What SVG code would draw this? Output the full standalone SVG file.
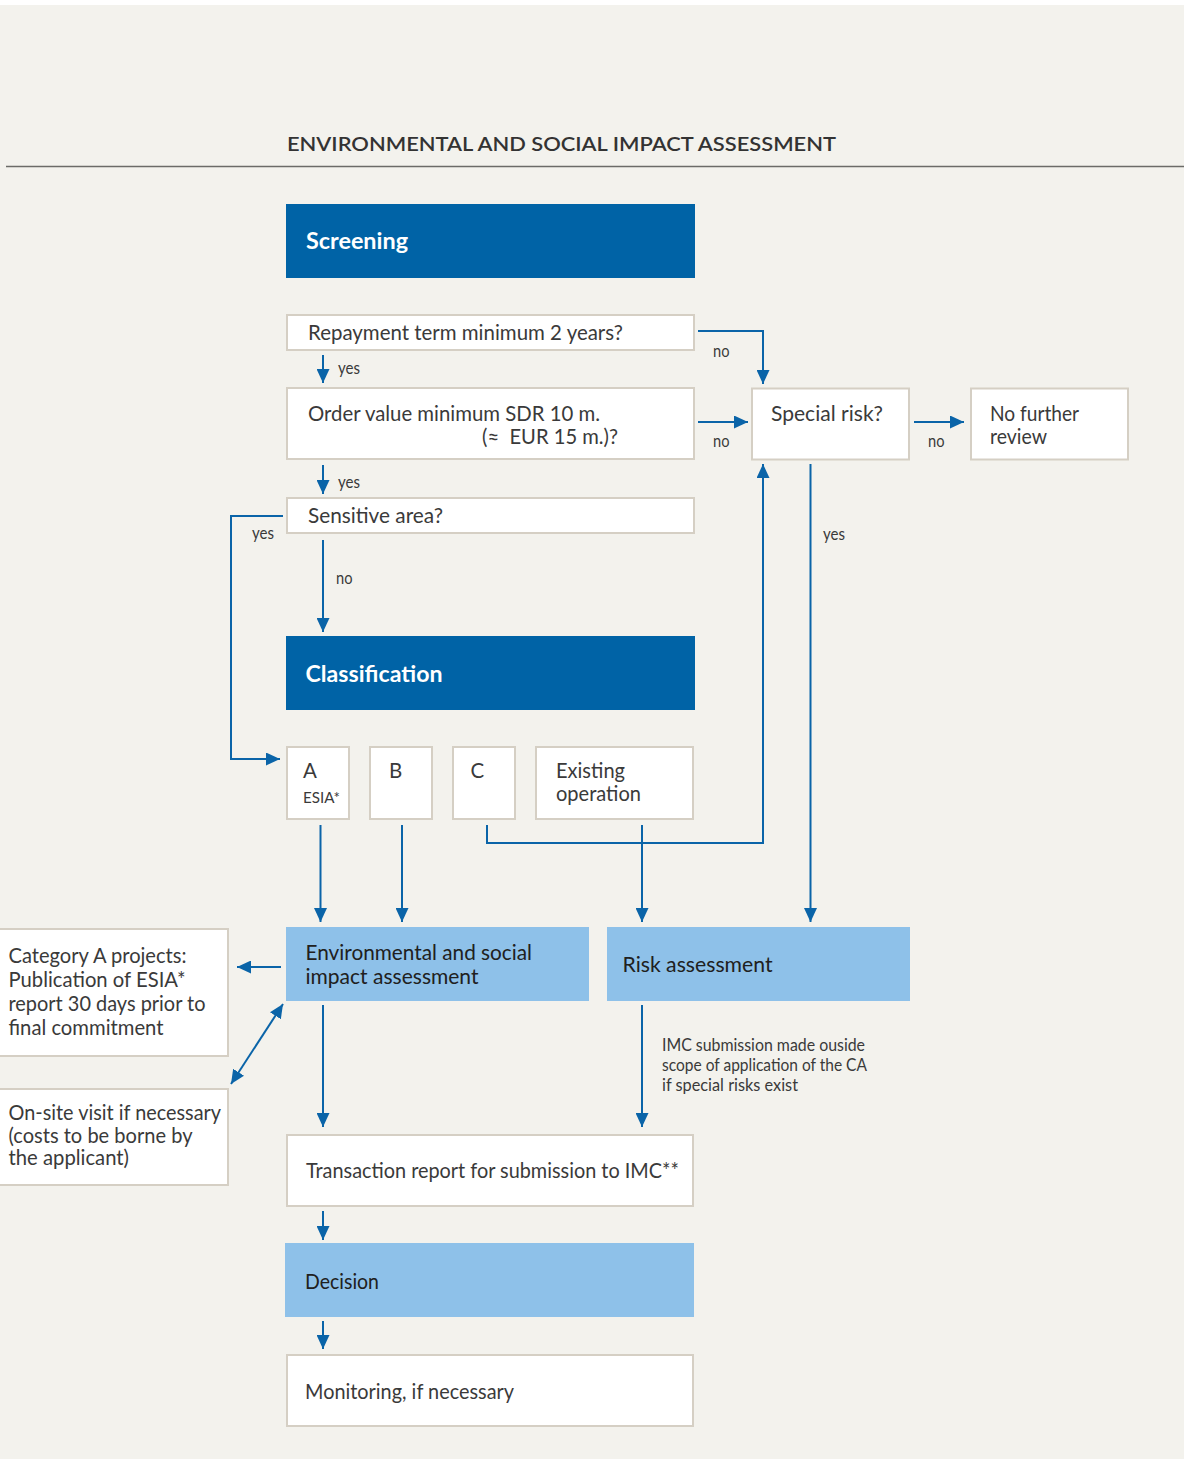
<svg xmlns="http://www.w3.org/2000/svg" width="1184" height="1459" viewBox="0 0 1184 1459">
<defs>
<style>
text{font-family:Lato,"Noto Sans","Liberation Sans",sans-serif;fill:#3a3a3a}
.t{font-size:20.5px}
.s{font-size:17px}
.h{font-size:23px;font-weight:700;fill:#ffffff}
.dk{fill:#202020}
.box{fill:#ffffff;stroke:#d5cfc4;stroke-width:2}
.dark{fill:#0063a6}
.light{fill:#8ec1e9}
.c{fill:none;stroke:#0a64a8;stroke-width:2}
</style>
<marker id="arr" viewBox="0 0 14 13" refX="14" refY="6.5" markerWidth="14" markerHeight="13" markerUnits="userSpaceOnUse" orient="auto-start-reverse">
<path d="M0,0 L14,6.5 L0,13 z" fill="#0a64a8"/>
</marker>
</defs>
<rect x="0" y="0" width="1184" height="1459" fill="#ffffff"/>
<rect x="0" y="5" width="1184" height="1454" fill="#f3f2ed"/>
<text x="287" y="151" style="font-size:19px;font-weight:600;fill:#333" textLength="549" lengthAdjust="spacingAndGlyphs">ENVIRONMENTAL AND SOCIAL IMPACT ASSESSMENT</text>
<line x1="6" y1="166.5" x2="1184" y2="166.5" stroke="#6b6b68" stroke-width="1.6"/>

<g id="connectors">
<path class="c" d="M698,331 H763 V384" marker-end="url(#arr)"/>
<path class="c" d="M323,355 V383" marker-end="url(#arr)"/>
<path class="c" d="M698,422 H748" marker-end="url(#arr)"/>
<path class="c" d="M323,465 V494" marker-end="url(#arr)"/>
<path class="c" d="M283,516 H231 V759 H280" marker-end="url(#arr)"/>
<path class="c" d="M323,540 V632" marker-end="url(#arr)"/>
<path class="c" d="M914,422 H964" marker-end="url(#arr)"/>
<path class="c" d="M810.5,464 V922" marker-end="url(#arr)"/>
<path class="c" d="M487,825 V843 H763 V464" marker-end="url(#arr)"/>
<path class="c" d="M320.5,825 V922" marker-end="url(#arr)"/>
<path class="c" d="M402,825 V922" marker-end="url(#arr)"/>
<path class="c" d="M642,825 V922" marker-end="url(#arr)"/>
<path class="c" d="M281,967 H237" marker-end="url(#arr)"/>
<path class="c" d="M283,1004 L231,1084" marker-start="url(#arr)" marker-end="url(#arr)"/>
<path class="c" d="M323,1005 V1127" marker-end="url(#arr)"/>
<path class="c" d="M642,1005 V1127" marker-end="url(#arr)"/>
<path class="c" d="M323,1211 V1240" marker-end="url(#arr)"/>
<path class="c" d="M323,1321 V1349" marker-end="url(#arr)"/>
<text class="s" x="338" y="374" textLength="22" lengthAdjust="spacingAndGlyphs">yes</text>
<text class="s" x="338" y="488" textLength="22" lengthAdjust="spacingAndGlyphs">yes</text>
<text class="s" x="252" y="539" textLength="22" lengthAdjust="spacingAndGlyphs">yes</text>
<text class="s" x="336" y="584" textLength="16.5" lengthAdjust="spacingAndGlyphs">no</text>
<text class="s" x="713" y="357" textLength="16.5" lengthAdjust="spacingAndGlyphs">no</text>
<text class="s" x="713" y="447" textLength="16.5" lengthAdjust="spacingAndGlyphs">no</text>
<text class="s" x="928" y="447" textLength="16.5" lengthAdjust="spacingAndGlyphs">no</text>
<text class="s" x="823" y="540" textLength="22" lengthAdjust="spacingAndGlyphs">yes</text>
<text class="s" x="662" y="1051" textLength="203" lengthAdjust="spacingAndGlyphs">IMC submission made ouside</text>
<text class="s" x="662" y="1071" textLength="205" lengthAdjust="spacingAndGlyphs">scope of application of the CA</text>
<text class="s" x="662" y="1091" textLength="136" lengthAdjust="spacingAndGlyphs">if special risks exist</text>
</g>

<g id="screening">
<rect class="dark" x="286" y="204" width="409" height="74"/>
<text class="h" x="306" y="249" textLength="102" lengthAdjust="spacingAndGlyphs">Screening</text>
</g>
<g id="repayment">
<rect class="box" x="287" y="315" width="407" height="35"/>
<text class="t" x="308" y="340" textLength="315" lengthAdjust="spacingAndGlyphs">Repayment term minimum 2 years?</text>
</g>
<g id="order-value">
<rect class="box" x="287" y="388" width="407" height="71"/>
<text class="t" x="308" y="421" textLength="292" lengthAdjust="spacingAndGlyphs">Order value minimum SDR 10 m.</text>
<text class="t" x="482" y="444" textLength="136" lengthAdjust="spacingAndGlyphs" style="white-space:pre">(≈  EUR 15 m.)?</text>
</g>
<g id="sensitive-area">
<rect class="box" x="287" y="498" width="407" height="35"/>
<text class="t" x="308" y="523" textLength="135" lengthAdjust="spacingAndGlyphs">Sensitive area?</text>
</g>
<g id="special-risk">
<rect class="box" x="752" y="388.5" width="157" height="71"/>
<text class="t" x="771" y="421" textLength="112" lengthAdjust="spacingAndGlyphs">Special risk?</text>
</g>
<g id="no-further-review">
<rect class="box" x="971" y="388.5" width="157" height="71"/>
<text class="t" x="990" y="421" textLength="89" lengthAdjust="spacingAndGlyphs">No further</text>
<text class="t" x="990" y="444" textLength="57" lengthAdjust="spacingAndGlyphs">review</text>
</g>
<g id="classification">
<rect class="dark" x="286" y="636" width="409" height="74"/>
<text class="h" x="305.5" y="681.5" textLength="137" lengthAdjust="spacingAndGlyphs">Classification</text>
</g>
<g id="cat-a">
<rect class="box" x="287" y="747" width="62" height="72"/>
<text class="t" x="303" y="778">A</text>
<text x="303" y="803" style="font-size:15.5px" textLength="37" lengthAdjust="spacingAndGlyphs">ESIA*</text>
</g>
<g id="cat-b">
<rect class="box" x="370" y="747" width="62" height="72"/>
<text class="t" x="389" y="778">B</text>
</g>
<g id="cat-c">
<rect class="box" x="453" y="747" width="62" height="72"/>
<text class="t" x="470.5" y="778">C</text>
</g>
<g id="existing-operation">
<rect class="box" x="536" y="747" width="157" height="72"/>
<text class="t" x="556" y="778" textLength="69" lengthAdjust="spacingAndGlyphs">Existing</text>
<text class="t" x="556" y="801" textLength="85" lengthAdjust="spacingAndGlyphs">operation</text>
</g>
<g id="esia">
<rect class="light" x="286" y="927" width="303" height="74"/>
<text class="t dk" x="305.5" y="960" textLength="226.5" lengthAdjust="spacingAndGlyphs">Environmental and social</text>
<text class="t dk" x="305.5" y="983.5" textLength="173" lengthAdjust="spacingAndGlyphs">impact assessment</text>
</g>
<g id="risk-assessment">
<rect class="light" x="607" y="927" width="303" height="74"/>
<text class="t dk" x="622.5" y="972" textLength="150" lengthAdjust="spacingAndGlyphs">Risk assessment</text>
</g>
<g id="category-a-projects">
<rect class="box" x="-2" y="929" width="230" height="127"/>
<text class="t" x="8.5" y="963" textLength="178" lengthAdjust="spacingAndGlyphs">Category A projects:</text>
<text class="t" x="8.5" y="987" textLength="177" lengthAdjust="spacingAndGlyphs">Publication of ESIA*</text>
<text class="t" x="8.5" y="1011" textLength="197" lengthAdjust="spacingAndGlyphs">report 30 days prior to</text>
<text class="t" x="8.5" y="1035" textLength="155" lengthAdjust="spacingAndGlyphs">final commitment</text>
</g>
<g id="on-site-visit">
<rect class="box" x="-2" y="1089" width="230" height="96"/>
<text class="t" x="8.5" y="1119.5" textLength="212.5" lengthAdjust="spacingAndGlyphs">On-site visit if necessary</text>
<text class="t" x="8.5" y="1143" textLength="184" lengthAdjust="spacingAndGlyphs">(costs to be borne by</text>
<text class="t" x="8.5" y="1164.5" textLength="120.5" lengthAdjust="spacingAndGlyphs">the applicant)</text>
</g>
<g id="transaction-report">
<rect class="box" x="287" y="1135" width="406" height="71"/>
<text class="t" x="306" y="1178" textLength="373" lengthAdjust="spacingAndGlyphs">Transaction report for submission to IMC**</text>
</g>
<g id="decision">
<rect class="light" x="285" y="1243" width="409" height="74"/>
<text class="t dk" x="305" y="1289" textLength="74" lengthAdjust="spacingAndGlyphs">Decision</text>
</g>
<g id="monitoring">
<rect class="box" x="287" y="1355" width="406" height="71"/>
<text class="t" x="305" y="1399" textLength="209" lengthAdjust="spacingAndGlyphs">Monitoring, if necessary</text>
</g>
</svg>
